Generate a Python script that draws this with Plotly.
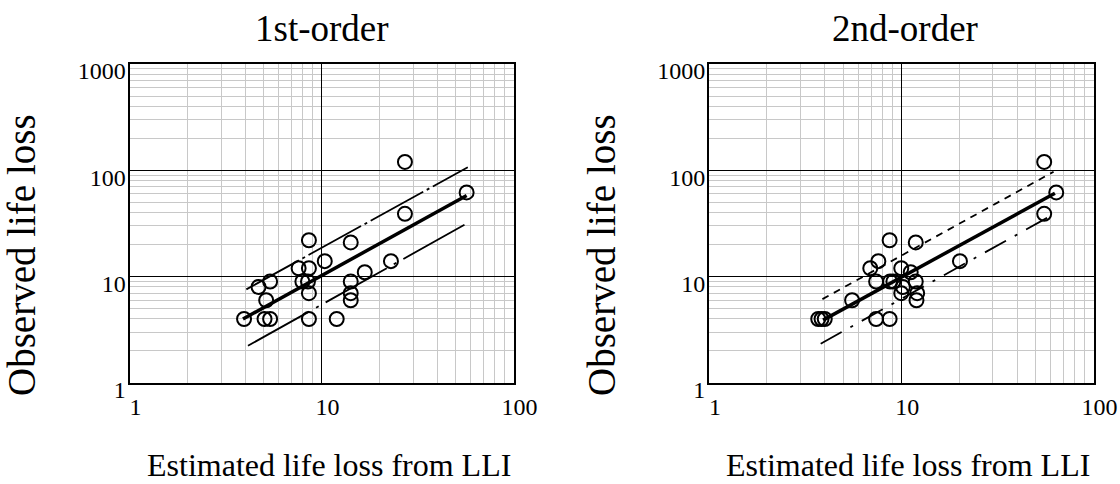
import plotly.graph_objects as go

W, H = 1120, 484

# ---- data ----
x_first = [3.95, 4.7, 5.15, 5.4, 5.05, 5.4, 7.6, 7.95, 8.6, 8.6, 8.5, 8.6, 8.6,
           10.4, 12.0, 14.2, 14.2, 14.2, 14.2, 16.8, 23.0, 27.2, 27.2, 57.0]
y_first = [4, 8, 6, 9, 4, 4, 12, 9, 22, 12, 9, 7, 4,
           14, 4, 21, 9, 7, 6, 11, 14, 120, 39, 62]

x_second = [3.7, 3.85, 4.0, 5.55, 6.9, 7.6, 7.4, 7.4, 8.7, 8.7, 8.75, 9.1,
            10.0, 10.2, 10.0, 11.2, 11.9, 11.9, 12.1, 12.0, 20.2, 55.4, 55.4, 64.0]
y_second = [4, 4, 4, 6, 12, 14, 9, 4, 22, 4, 9, 9,
            12, 8, 7, 11, 21, 9, 7, 6, 14, 120, 39, 62]

fit1_x, fit1_y = [3.9, 57.0], [4.0, 58.0]
up1_x, up1_y = [4.06, 57.8], [7.6, 107.0]
lo1_x, lo1_y = [4.14, 57.8], [2.24, 32.0]

fit2_x, fit2_y = [3.92, 63.0], [3.9, 61.0]
up2_x, up2_y = [3.89, 62.0], [6.15, 97.0]
lo2_x, lo2_y = [3.81, 62.6], [2.34, 39.0]

x_ticks = [1, 10, 100]
y_ticks = [1, 10, 100, 1000]
titles = ["1st-order", "2nd-order"]
x_title = "Estimated life loss from LLI"
y_title = "Observed life loss"

FONT = "Liberation Serif"

fig = go.Figure()

def add_panel(xs, ys, fx, fy, ux, uy, lx, ly, xa, ya, up_dash, lo_dash):
    fig.add_trace(go.Scatter(x=ux, y=uy, mode="lines", xaxis=xa, yaxis=ya,
                             line=dict(color="black", width=1.8, dash=up_dash), showlegend=False))
    fig.add_trace(go.Scatter(x=lx, y=ly, mode="lines", xaxis=xa, yaxis=ya,
                             line=dict(color="black", width=1.8, dash=lo_dash), showlegend=False))
    fig.add_trace(go.Scatter(x=fx, y=fy, mode="lines", xaxis=xa, yaxis=ya,
                             line=dict(color="black", width=3.5), showlegend=False))
    fig.add_trace(go.Scatter(x=xs, y=ys, mode="markers", xaxis=xa, yaxis=ya,
                             marker=dict(symbol="circle-open", size=14, color="black",
                                         line=dict(color="black", width=2)),
                             showlegend=False))

add_panel(x_first, y_first, fit1_x, fit1_y, up1_x, up1_y, lo1_x, lo1_y, "x", "y",
          "60px,4px,3px,4px", "70px,8px,3px,8px")
add_panel(x_second, y_second, fit2_x, fit2_y, up2_x, up2_y, lo2_x, lo2_y, "x2", "y2",
          "7px,6px", "24px,10px,3px,10px")

def xaxis(dom, anchor):
    return dict(type="log", range=[0, 2], domain=dom, anchor=anchor, automargin=False,
                tickvals=x_ticks, ticktext=[str(v) for v in x_ticks],
                showgrid=True, gridcolor="black", gridwidth=1,
                minor=dict(dtick="D1", showgrid=True, gridcolor="#c8c8c8", gridwidth=1, ticks=""),
                showline=True, mirror=True, linecolor="black", linewidth=2,
                ticks="", zeroline=False,
                tickfont=dict(family=FONT, size=24, color="black"),
                ticklabelshift=6, ticklabelstandoff=1)

def yaxis(dom, anchor):
    return dict(type="log", range=[0, 3], domain=dom, anchor=anchor, automargin=False,
                tickvals=y_ticks, ticktext=[str(v) for v in y_ticks],
                showgrid=True, gridcolor="black", gridwidth=1,
                minor=dict(dtick="D1", showgrid=True, gridcolor="#c8c8c8", gridwidth=1, ticks=""),
                showline=True, mirror=True, linecolor="black", linewidth=2,
                ticks="", zeroline=False,
                tickfont=dict(family=FONT, size=24, color="black"),
                ticklabelshift=7, ticklabelstandoff=-3)

ytop, ybot = 64, 383
ydom = [1 - ybot / H, 1 - ytop / H]
fig.update_layout(
    width=W, height=H,
    margin=dict(l=0, r=0, t=0, b=0, autoexpand=False),
    paper_bgcolor="white", plot_bgcolor="white",
    xaxis=xaxis([129.5 / W, 513.5 / W], "y"),
    yaxis=yaxis(ydom, "x"),
    xaxis2=xaxis([709 / W, 1093.5 / W], "y2"),
    yaxis2=yaxis(ydom, "x2"),
    font=dict(family=FONT, color="black"),
)

ann = []
for cx, t in zip([322, 905], titles):
    ann.append(dict(x=cx / W, y=1 - 28 / H, xref="paper", yref="paper", text=t,
                    showarrow=False, xanchor="center", yanchor="middle",
                    font=dict(family=FONT, size=37, color="black")))
for cx in [329, 908]:
    ann.append(dict(x=cx / W, y=1 - 465 / H, xref="paper", yref="paper", text=x_title,
                    showarrow=False, xanchor="center", yanchor="middle",
                    font=dict(family=FONT, size=32, color="black")))
for cx in [22, 602]:
    ann.append(dict(x=cx / W, y=1 - 255 / H, xref="paper", yref="paper", text=y_title,
                    showarrow=False, xanchor="center", yanchor="middle", textangle=-90,
                    font=dict(family=FONT, size=39, color="black")))
fig.update_layout(annotations=ann)

fig.write_html("out.html")
